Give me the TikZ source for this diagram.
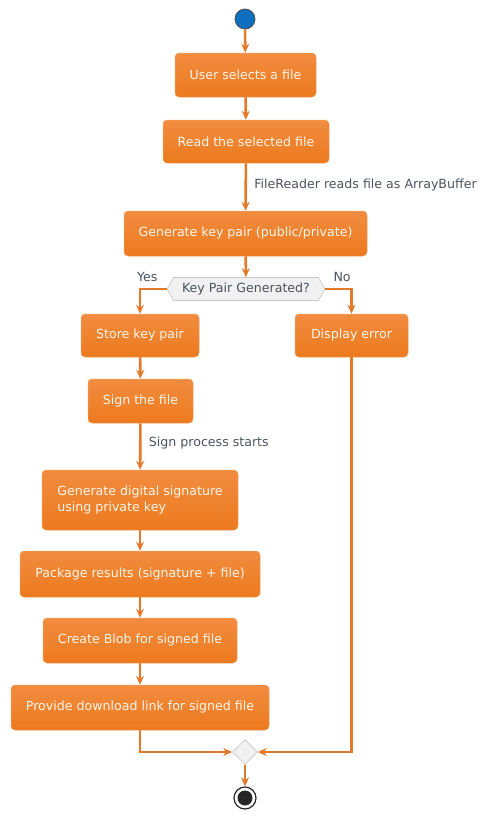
\documentclass[tikz,border=0pt]{standalone}
\usepackage{fontspec}
\setmainfont{DejaVu Sans}
\usetikzlibrary{arrows.meta,shapes.geometric,shapes.symbols}
\definecolor{boxtop}{HTML}{F28C40}
\definecolor{boxbot}{HTML}{EC7A1E}
\definecolor{boxline}{HTML}{F0A060}
\definecolor{edge}{HTML}{E2792B}
\definecolor{boxtext}{HTML}{FFF6EA}
\definecolor{lbl}{HTML}{4A5360}
\definecolor{decfill}{HTML}{F1F1F1}
\definecolor{decline}{HTML}{C8C8C8}
\definecolor{startblue}{HTML}{0E6FC0}
\tikzset{
  txt/.style={font=\fontsize{12.6}{15.5}\selectfont},
  act/.style={rectangle, rounded corners=4pt, top color=boxtop, bottom color=boxbot,
    draw=boxline, line width=0.5pt, text=boxtext, txt, align=left},
  arr/.style={draw=edge, line width=2.6pt, -{Stealth[length=9pt,width=8pt,inset=3pt]}},
  lab/.style={text=lbl, txt, anchor=west},
  branchlab/.style={text=lbl, txt, inner sep=0pt},
}
\begin{document}
\begin{tikzpicture}[x=1pt,y=-1pt]
\useasboundingbox (0,0) rectangle (489,820);
\node[circle, fill=startblue, draw=black!70, line width=0.8pt, minimum size=20pt, inner sep=0pt] (start) at (245,19) {};
\node[act, minimum width=141pt, minimum height=44pt] (b1) at (245.5,75) {User selects a file};
\node[act, minimum width=166pt, minimum height=43pt] (b2) at (246,141.5) {Read the selected file};
\node[act, minimum width=243pt, minimum height=45pt] (b3) at (245.5,233.5) {Generate key pair (public/private)};
\node[signal, signal to=east and west, signal pointer angle=120, fill=decfill, draw=decline, line width=0.6pt,
  minimum width=158pt, minimum height=23pt, inner sep=1pt, text=lbl, txt] (dec) at (246,289) {Key Pair Generated?};
\node[act, minimum width=118pt, minimum height=43pt] (store) at (140,335.5) {Store key pair};
\node[act, minimum width=113pt, minimum height=43pt] (err) at (351.5,335.5) {Display error};
\node[act, minimum width=105pt, minimum height=44pt] (sign) at (140.5,401) {Sign the file};
\node[act, minimum width=196pt, minimum height=60pt] (gen) at (140,500) {Generate digital signature\\using private key};
\node[act, minimum width=240pt, minimum height=46pt] (pack) at (140,574) {Package results (signature + file)};
\node[act, minimum width=194pt, minimum height=45pt] (blob) at (140,640.5) {Create Blob for signed file};
\node[act, minimum width=258pt, minimum height=45pt] (prov) at (140,707.5) {Provide download link for signed file};
\node[diamond, fill=decfill, draw=decline, line width=0.6pt, minimum size=25pt, inner sep=0pt] (merge) at (245,752) {};
\node[circle, draw=black!85, line width=1.2pt, minimum size=22pt, inner sep=0pt] (stop) at (245,798) {};
\node[circle, fill=black!85, minimum size=15pt, inner sep=0pt] (stopin) at (245,798) {};

\node[branchlab, anchor=south east] (yes) at ([xshift=-9pt,yshift=7pt]dec.west) {Yes};
\node[branchlab, anchor=south west] (no) at ([xshift=8pt,yshift=7pt]dec.east) {No};

\draw[arr] (start) -- (b1);
\draw[arr] (b1) -- (b2);
\draw[arr] (b2) -- node[lab, pos=0.45, xshift=4pt] {FileReader reads file as ArrayBuffer} (b3);
\draw[arr] (b3) -- (dec);
\draw[arr] (dec.west) -| (store);
\draw[arr] (dec.east) -| (err);
\draw[arr] (store) -- (sign);
\draw[arr] (sign) -- node[lab, pos=0.42, xshift=4pt] {Sign process starts} (gen);
\draw[arr] (gen) -- (pack);
\draw[arr] (pack) -- (blob);
\draw[arr] (blob) -- (prov);
\draw[arr] (prov.south) |- (merge.west);
\draw[arr] (err.south) |- (merge.east);
\draw[arr] (merge) -- (stop);
\end{tikzpicture}
\end{document}
